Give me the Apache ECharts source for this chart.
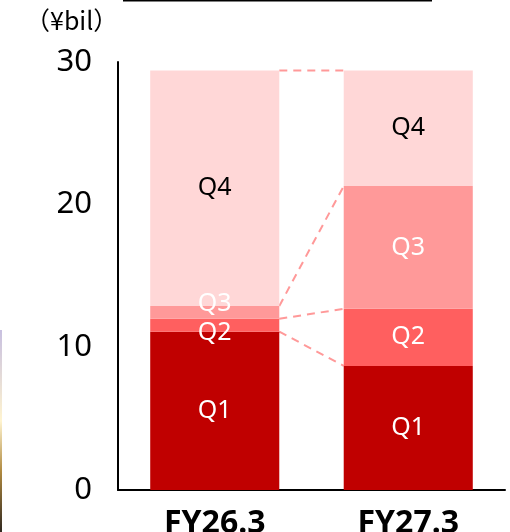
<!DOCTYPE html>
<html>
<head>
<meta charset="utf-8">
<script src="https://cdn.jsdelivr.net/npm/echarts@6/dist/echarts.min.js"></script>
<style>
  html, body { margin: 0; padding: 0; background: #fff; }
  #chart { width: 510px; height: 532px; }
</style>
</head>
<body>
<div id="chart"></div>
<script>
// Fiscal years on the x axis
const categories = ['FY26.3', 'FY27.3'];
// Quarterly amounts (¥ billion), stacked bottom to top
const q1 = [11.1, 8.7];
const q2 = [0.9, 4.0];
const q3 = [0.9, 8.6];
const q4 = [16.5, 8.1];
const quarterNames = ['Q1', 'Q2', 'Q3', 'Q4'];
const yTicks = [0, 10, 20, 30];

const quarterColors = ['#C00000', '#FF5F5F', '#FF9999', '#FFD7D7'];
const labelColors = ['#ffffff', '#ffffff', '#ffffff', '#000000'];
const FONT = '"Noto Sans", "Noto Sans CJK JP", sans-serif';
const BAR_FRACTION = 0.667;

const quarters = [q1, q2, q3, q4];

// Running totals for each quarter boundary, per fiscal year
const cumulative = quarters.map((_, i) =>
  categories.map((_, c) => quarters.slice(0, i + 1).reduce((s, q) => s + q[c], 0))
);

// Small slices in FY26.3 get their labels nudged apart
const labelOffsets = {
  'Q2': [[0, 8], [0, 0]],
  'Q3': [[0, -9], [0, 0]]
};

const barSeries = quarters.map((vals, i) => ({
  name: quarterNames[i],
  type: 'bar',
  stack: 'total',
  barWidth: (BAR_FRACTION * 100) + '%',
  itemStyle: { color: quarterColors[i] },
  data: vals.map((v, c) => ({
    value: v,
    label: {
      show: true,
      position: 'inside',
      formatter: quarterNames[i],
      color: labelColors[i],
      fontFamily: FONT,
      fontSize: 25,
      offset: labelOffsets[quarterNames[i]] ? labelOffsets[quarterNames[i]][c] : [0, 0]
    }
  }))
}));

// Dashed connectors between matching quarter boundaries of the two bars
const connectorSeries = {
  type: 'custom',
  silent: true,
  z: 1,
  encode: { x: 0, y: 1 },
  data: cumulative.map(c => [0, c[0], c[1]]),
  renderItem: function (params, api) {
    const a = api.coord([0, api.value(1)]);
    const b = api.coord([1, api.value(2)]);
    const half = api.size([1, 0])[0] * BAR_FRACTION / 2;
    return {
      type: 'line',
      shape: { x1: a[0] + half, y1: a[1], x2: b[0] - half, y2: b[1] },
      style: { stroke: '#FF9999', lineWidth: 2, lineDash: [8, 6] }
    };
  }
};

const chart = echarts.init(document.getElementById('chart'), null, { renderer: 'canvas' });
chart.setOption({
  animation: false,
  backgroundColor: '#ffffff',
  grid: {
    left: 118, right: 5, top: 62, bottom: 42,
    containLabel: false, outerBoundsMode: 'none'
  },
  xAxis: {
    type: 'category',
    data: categories,
    axisLine: { lineStyle: { color: '#000', width: 2 } },
    axisTick: { show: false },
    axisLabel: {
      color: '#000', fontFamily: FONT, fontSize: 32, fontWeight: 'bold', margin: 18
    }
  },
  yAxis: {
    type: 'value',
    min: yTicks[0],
    max: yTicks[yTicks.length - 1],
    interval: yTicks[1] - yTicks[0],
    splitLine: { show: false },
    axisTick: { show: false },
    axisLine: { show: true, lineStyle: { color: '#000', width: 2 } },
    axisLabel: { color: '#000', fontFamily: FONT, fontSize: 31, margin: 26 }
  },
  graphic: [
    {
      type: 'text', left: 25, top: 8,
      style: { text: '（¥bil）', fontFamily: '"Noto Sans CJK JP", sans-serif', fontSize: 25, fill: '#000' }
    },
    {
      type: 'line',
      shape: { x1: 123, y1: 0.5, x2: 432, y2: 0.5 },
      style: { stroke: '#000', lineWidth: 2 }
    },
    {
      // thin photo strip along the left edge
      type: 'rect',
      shape: { x: 0, y: 330, width: 2, height: 202 },
      style: {
        fill: new echarts.graphic.LinearGradient(0, 0, 0, 1, [
          { offset: 0, color: '#c8c0e0' },
          { offset: 0.45, color: '#fff4d0' },
          { offset: 0.7, color: '#b08a40' },
          { offset: 1, color: '#302820' }
        ])
      }
    }
  ],
  series: [connectorSeries].concat(barSeries)
});
</script>
</body>
</html>
